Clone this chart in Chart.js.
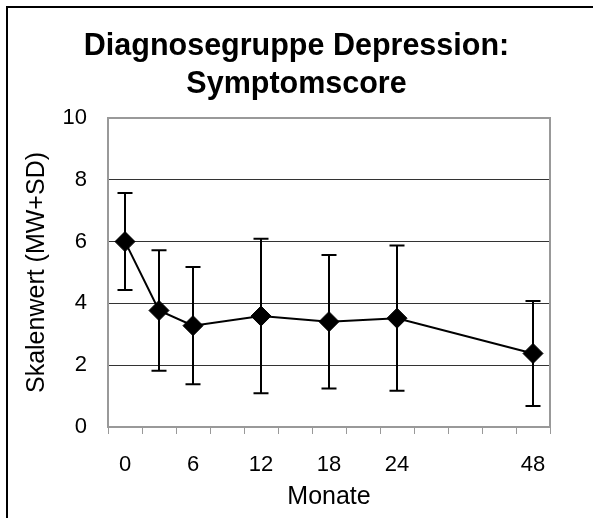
<!DOCTYPE html>
<html>
<head>
<meta charset="utf-8">
<script src="https://cdn.jsdelivr.net/npm/chart.js@4.4.1/dist/chart.umd.min.js"></script>
<style>
  html, body { margin: 0; padding: 0; background: #fff; }
  #wrap { width: 593px; height: 518px; position: relative; }
</style>
</head>
<body>
<div id="wrap"><canvas id="c" width="593" height="518"></canvas></div>
<script>
// Categories (months); blank entries are unlabeled category slots
const months = ['0', '3', '6', '', '12', '', '18', '', '24', '', '', '', '48'];
// Mean symptom score (MW) per category
const meanValues = [6.0, 3.77, 3.28, null, 3.59, null, 3.41, null, 3.52, null, null, null, 2.38];
// Standard deviation (SD) per category
const sdValues = [1.57, 1.95, 1.9, null, 2.5, null, 2.16, null, 2.35, null, null, null, 1.7];
// Y tick values
const yTicks = [0, 2, 4, 6, 8, 10];

const FONT = "'Liberation Sans', Arial, sans-serif";

const frame = {
  id: 'frame',
  beforeDraw(chart) {
    const ctx = chart.ctx;
    ctx.save();
    ctx.fillStyle = '#fff';
    ctx.fillRect(0, 0, chart.width, chart.height);
    ctx.strokeStyle = '#000';
    ctx.lineWidth = 2;
    ctx.beginPath();
    ctx.moveTo(7, chart.height);
    ctx.lineTo(7, 7);
    ctx.lineTo(chart.width, 7);
    ctx.stroke();
    ctx.restore();
  },
  beforeDatasetsDraw(chart) {
    const a = chart.chartArea;
    const ctx = chart.ctx;
    ctx.save();
    ctx.strokeStyle = '#999';
    ctx.lineWidth = 2;
    ctx.strokeRect(a.left, a.top, a.right - a.left, a.bottom - a.top);
    ctx.restore();
  }
};

const errorBars = {
  id: 'errorBars',
  beforeDatasetsDraw(chart) {
    const ctx = chart.ctx;
    const xs = chart.scales.x, ys = chart.scales.y;
    ctx.save();
    ctx.strokeStyle = '#000';
    ctx.lineWidth = 2;
    meanValues.forEach((m, i) => {
      if (m === null || sdValues[i] === null) return;
      const x = xs.getPixelForValue(i);
      const yTop = ys.getPixelForValue(m + sdValues[i]);
      const yBot = ys.getPixelForValue(m - sdValues[i]);
      ctx.beginPath();
      ctx.moveTo(x, yTop); ctx.lineTo(x, yBot);
      ctx.moveTo(x - 7.5, yTop); ctx.lineTo(x + 7.5, yTop);
      ctx.moveTo(x - 7.5, yBot); ctx.lineTo(x + 7.5, yBot);
      ctx.stroke();
    });
    ctx.restore();
  }
};

new Chart(document.getElementById('c'), {
  type: 'line',
  data: {
    labels: months,
    datasets: [{
      data: meanValues,
      borderColor: '#000',
      backgroundColor: '#000',
      borderWidth: 2,
      pointStyle: 'rectRot',
      pointRadius: 10,
      pointHoverRadius: 10,
      pointBackgroundColor: '#000',
      pointBorderColor: '#000',
      pointBorderWidth: 1,
      spanGaps: true,
      tension: 0
    }]
  },
  options: {
    responsive: false,
    animation: false,
    devicePixelRatio: 1,
    layout: { padding: 0 },
    plugins: {
      legend: { display: false },
      tooltip: { enabled: false },
      title: {
        display: true,
        text: ['Diagnosegruppe Depression:', 'Symptomscore'],
        color: '#000',
        font: { family: FONT, size: 30.5, weight: 'bold', lineHeight: 1.246 },
        padding: { top: 28, bottom: 14 }
      }
    },
    scales: {
      x: {
        type: 'category',
        offset: true,
        grid: {
          display: true,
          offset: true,
          drawOnChartArea: false,
          drawTicks: true,
          tickLength: 7,
          color: '#999',
          lineWidth: 1
        },
        border: { display: false },
        ticks: {
          autoSkip: false,
          maxRotation: 0,
          color: '#000',
          padding: 18,
          font: { family: FONT, size: 22 },
          callback: function (v, i) { return i % 2 === 0 ? months[i] : ''; }
        },
        title: {
          display: true,
          text: 'Monate',
          color: '#000',
          font: { family: FONT, size: 25, lineHeight: 1.2 },
          padding: { top: 0, bottom: 6 }
        },
        afterFit(scale) { scale.height = 91; }
      },
      y: {
        min: 0,
        max: 10,
        afterBuildTicks(scale) { scale.ticks = yTicks.map(v => ({ value: v })); },
        grid: {
          drawTicks: false,
          color: (c) => (c.tick && (c.tick.value === 0 || c.tick.value === 10)) ? 'rgba(0,0,0,0)' : '#333',
          lineWidth: 1
        },
        border: { display: false },
        ticks: {
          color: '#000',
          padding: 21,
          font: { family: FONT, size: 22 }
        },
        title: {
          display: true,
          text: 'Skalenwert (MW+SD)',
          color: '#000',
          font: { family: FONT, size: 25, lineHeight: 1.2 },
          padding: { top: 22, bottom: 0 }
        },
        afterFit(scale) { scale.width = 108; }
      },
      yRight: {
        position: 'right',
        display: true,
        min: 0,
        max: 10,
        grid: { display: false, drawTicks: false },
        border: { display: false },
        ticks: { display: false },
        afterFit(scale) { scale.width = 43; }
      }
    }
  },
  plugins: [frame, errorBars]
});
</script>
</body>
</html>
